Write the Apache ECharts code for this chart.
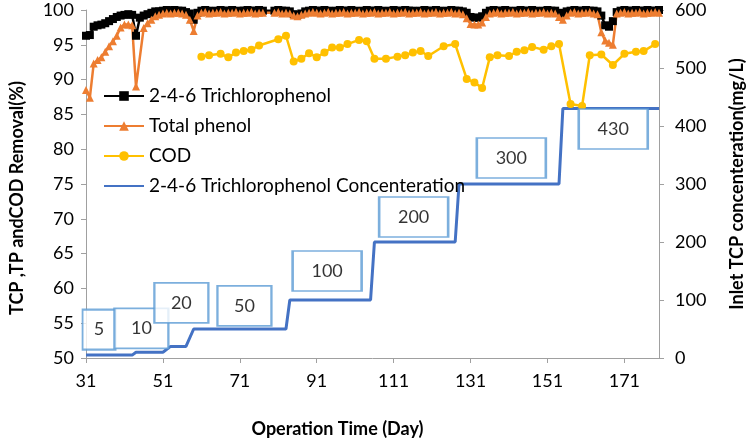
<!DOCTYPE html>
<html>
<head>
<meta charset="utf-8">
<title>TCP removal</title>
<script src="https://cdn.jsdelivr.net/npm/echarts@6.0.0/dist/echarts.min.js"></script>
<style>
  html, body { margin: 0; padding: 0; background: #ffffff; }
  #chart { width: 754px; height: 443px; }
</style>
</head>
<body>
<div id="chart"></div>
<script>
// first and last day on the x axis
const firstDay = 31;
const lastDay = 180;

// daily removal (%), day 31 .. day 180, null = no sample
const tcpRemoval = [
  96.3, 96.4, 97.6, 97.8, 97.9, 98.1, 98.4, 98.7, 99.0, 99.2, 99.3, 99.4, 99.3, 96.3, 98.9, 99.2, 99.4, 99.6, 99.8, 99.8,
  99.9, 100, 99.9, 100, 99.9, 99.9, 99.7, 99.5, 98.6, 99.6,
  99.9, 100, 99.9, 99.8, 99.9, 100, 99.9, 99.9, 100, 99.8, 99.9, 99.9, 100, 99.9, 99.9, 100, 99.9,
  null, null,
  99.9, 100, 99.9, 99.9, 99.8, 99.4, 99.3, 99.5,
  99.8, 99.9, 100, 99.9, 99.9, 100, 99.9, 99.8, 99.9, 100,
  99.9, 99.9, 100, 99.9, 99.8, 99.9, 100, 99.9, 99.9, 100,
  99.9, 99.8, 99.9, 100, 99.9, 99.9, 100, 99.9, 99.9, 99.8,
  99.9, 100, 99.9, 99.9, 100, 99.9, 99.8, 99.9, 100, 99.9,
  99.9, 99.8,
  99.6, 99.0, 98.9, 98.9, 99.1, 99.6,
  99.9, 100, 99.9, 99.9, 100, 99.9, 99.8, 99.9, 100, 99.9, 99.9, 100, 99.9, 99.8, 99.9, 100, 99.9, 99.9,
  99.6, 99.5, 99.8,
  99.9, 100, 99.9, 99.9, 100, 99.9, 99.9, 99.8,
  99.2, 97.8, 97.6, 98.4, 99.7,
  99.9, 100, 99.9, 99.9, 100, 99.9, 99.9, 100, 99.9, 99.9, 100
];

const tpRemoval = [
  88.5, 87.4, 92.3, 92.8, 93.2, 94.0, 94.8, 95.5, 96.3, 97.5, 97.9, 97.9, 97.8, 89.0, null, 97.4, 98.1, 98.6, 99.1, 99.3,
  99.5, 99.6, 99.5, 99.6, 99.6, 99.5, 99.3, 98.6, 97.0, 99.2,
  99.6, 99.7, 99.5, 99.6, 99.6, 99.7, 99.5, 99.6, 99.6, 99.7, 99.5, 99.6, 99.6, 99.7, 99.5, 99.6, 99.6,
  null, null,
  99.6, 99.7, 99.5, 99.6, 99.5, 99.2, 99.1, 99.3,
  99.5, 99.6, 99.7, 99.6, 99.5, 99.6, 99.7, 99.5, 99.6, 99.6,
  99.7, 99.5, 99.6, 99.6, 99.7, 99.5, 99.6, 99.6, 99.7, 99.5,
  99.6, 99.6, 99.7, 99.5, 99.6, 99.6, 99.7, 99.5, 99.6, 99.6,
  99.7, 99.5, 99.6, 99.6, 99.7, 99.5, 99.6, 99.6, 99.7, 99.5,
  99.6, 99.4,
  98.8, 98.0, 97.9, 97.9, 98.2, 99.0,
  99.5, 99.6, 99.7, 99.5, 99.6, 99.6, 99.7, 99.5, 99.6, 99.6, 99.7, 99.5, 99.6, 99.6, 99.7, 99.5, 99.6, 99.5,
  99.0, 98.6, 99.2,
  99.6, 99.7, 99.5, 99.6, 99.6, 99.7, 99.5, 99.4,
  96.8, 95.6, 95.3, 95.0, 99.5,
  99.6, 99.7, 99.5, 99.6, 99.6, 99.7, 99.5, 99.6, 99.6, 99.7, 99.6
];

// COD removal (%) sampled on these days
const codDays = [61, 63, 66, 68, 70, 72, 74, 76, 81, 83, 85, 87, 89, 91, 93, 95, 97, 99, 102, 104,
  106, 109, 112, 114, 116, 118, 120, 124, 127, 130, 132, 134, 136, 138, 141, 143, 145, 147, 150, 152,
  154, 157, 160, 162, 165, 168, 171, 174, 176, 179];
const codRemoval = [93.3, 93.5, 93.7, 93.2, 93.9, 94.1, 94.3, 94.9, 95.8, 96.3, 92.6, 93.0, 93.8, 93.2, 93.9, 94.6, 94.6, 95.1, 95.7, 95.5,
  93.0, 93.0, 93.3, 93.5, 93.9, 94.1, 93.4, 94.8, 95.1, 90.1, 89.6, 88.8, 93.2, 93.5, 93.4, 94.0, 94.2, 94.7, 94.3, 94.8,
  95.1, 86.5, 86.2, 93.5, 93.6, 92.1, 93.7, 94.0, 94.1, 95.1];

// inlet TCP concentration (mg/L), corners of the step line
const concDays = [31, 43, 44, 51, 53, 57, 59, 83, 84, 105, 106, 127, 128, 154, 155, 180];
const concValues = [5, 5, 10, 10, 20, 20, 50, 50, 100, 100, 200, 200, 300, 300, 430, 430];

// text boxes naming each concentration step, anchored at [day, mg/L]
const boxText = ['5', '10', '20', '50', '100', '200', '300', '430'];
const boxDay = [34.4, 45.4, 55.8, 72.2, 93.7, 116.2, 141.6, 168.1];
const boxConc = [49, 51, 95, 90, 150, 243, 345, 395];

const leftTicks = { min: 50, max: 100, interval: 5 };
const rightTicks = { min: 0, max: 600, interval: 100 };
const dayTicks = 20;

const FONT = 'Lato, "Liberation Sans", sans-serif';

function byDay(values) {
  return values.map((v, i) => [firstDay + i, v]);
}

function pairs(xs, ys) {
  return xs.map((x, i) => [x, ys[i]]);
}

function getOption() {
  const boxWidths = { 1: 33, 2: 54, 3: 69 };
  const boxes = boxText.map((t, i) => ({
    value: [boxDay[i], boxConc[i]],
    symbolSize: [boxWidths[t.length], 40],
    label: { formatter: t }
  }));

  return {
    animation: false,
    backgroundColor: '#ffffff',
    textStyle: { fontFamily: FONT },
    grid: { left: 78, right: 86, top: 10, bottom: 80, containLabel: false },
    legend: {
      orient: 'vertical',
      left: 98,
      top: 80,
      itemWidth: 40,
      itemHeight: 12,
      itemGap: 8,
      data: [
        '2-4-6 Trichlorophenol',
        'Total phenol',
        'COD',
        // plain line in the legend, no marker
        { name: '2-4-6 Trichlorophenol Concenteration', itemStyle: { opacity: 0 } }
      ],
      textStyle: { fontFamily: FONT, fontSize: 19, color: '#000', lineHeight: 22 }
    },
    xAxis: {
      type: 'value',
      min: firstDay,
      max: lastDay,
      interval: dayTicks,
      name: 'Operation Time (Day)',
      nameLocation: 'middle',
      nameGap: 62,
      nameTextStyle: { fontFamily: FONT, fontSize: 18, fontWeight: 'bold', color: '#000', padding: [0, 70, 0, 0] },
      splitLine: { show: false },
      axisLine: { lineStyle: { color: '#a0a0a0', width: 1 } },
      axisTick: { show: true, length: 5, lineStyle: { color: '#a0a0a0' } },
      axisLabel: { showMaxLabel: false, margin: 14, fontFamily: FONT, fontSize: 18, color: '#000' }
    },
    yAxis: [
      {
        type: 'value',
        min: leftTicks.min,
        max: leftTicks.max,
        interval: leftTicks.interval,
        name: 'TCP ,TP andCOD Removal(%)',
        nameLocation: 'middle',
        nameGap: 60,
        nameTextStyle: { fontFamily: FONT, fontSize: 18, fontWeight: 'bold', color: '#000', padding: [0, 28, 0, 0] },
        splitLine: { show: false },
        axisLine: { show: true, lineStyle: { color: '#a0a0a0', width: 1 } },
        axisTick: { show: true, length: 5, lineStyle: { color: '#a0a0a0' } },
        axisLabel: { margin: 12, fontFamily: FONT, fontSize: 18, color: '#000' }
      },
      {
        type: 'value',
        position: 'right',
        min: rightTicks.min,
        max: rightTicks.max,
        interval: rightTicks.interval,
        name: 'Inlet TCP concenteration(mg/L)',
        nameLocation: 'middle',
        nameGap: 69,
        nameTextStyle: { fontFamily: FONT, fontSize: 18, fontWeight: 'bold', color: '#000' },
        splitLine: { show: false },
        axisLine: { show: true, lineStyle: { color: '#a0a0a0', width: 1 } },
        axisTick: { show: true, length: 5, lineStyle: { color: '#a0a0a0' } },
        axisLabel: { margin: 16, fontFamily: FONT, fontSize: 18, color: '#000' }
      }
    ],
    series: [
      {
        name: '2-4-6 Trichlorophenol',
        type: 'line',
        data: byDay(tcpRemoval),
        connectNulls: true,
        symbol: 'rect',
        symbolSize: 8,
        color: '#000000',
        lineStyle: { width: 2.5, color: '#000000' },
        itemStyle: { color: '#000000' }
      },
      {
        name: 'Total phenol',
        type: 'line',
        data: byDay(tpRemoval),
        connectNulls: true,
        symbol: 'triangle',
        symbolSize: 8,
        color: '#ED7D31',
        lineStyle: { width: 2.5, color: '#ED7D31' },
        itemStyle: { color: '#ED7D31' }
      },
      {
        name: 'COD',
        type: 'line',
        data: pairs(codDays, codRemoval),
        symbol: 'circle',
        symbolSize: 8,
        color: '#FFC000',
        lineStyle: { width: 2.5, color: '#FFC000' },
        itemStyle: { color: '#FFC000' }
      },
      {
        name: '2-4-6 Trichlorophenol Concenteration',
        type: 'line',
        yAxisIndex: 1,
        data: pairs(concDays, concValues),
        symbol: 'none',
        color: '#4472C4',
        lineStyle: { width: 3, color: '#4472C4' }
      },
      {
        // boxed step labels
        name: 'steps',
        type: 'scatter',
        yAxisIndex: 1,
        symbol: 'rect',
        silent: true,
        z: 5,
        data: boxes,
        itemStyle: { color: '#ffffff', borderColor: '#5B9BD5', borderWidth: 2 },
        label: { show: true, position: 'inside', fontFamily: FONT, fontSize: 18, color: '#000' }
      }
    ]
  };
}

const chart = echarts.init(document.getElementById('chart'), null, { renderer: 'canvas' });
chart.setOption(getOption());
</script>
</body>
</html>
